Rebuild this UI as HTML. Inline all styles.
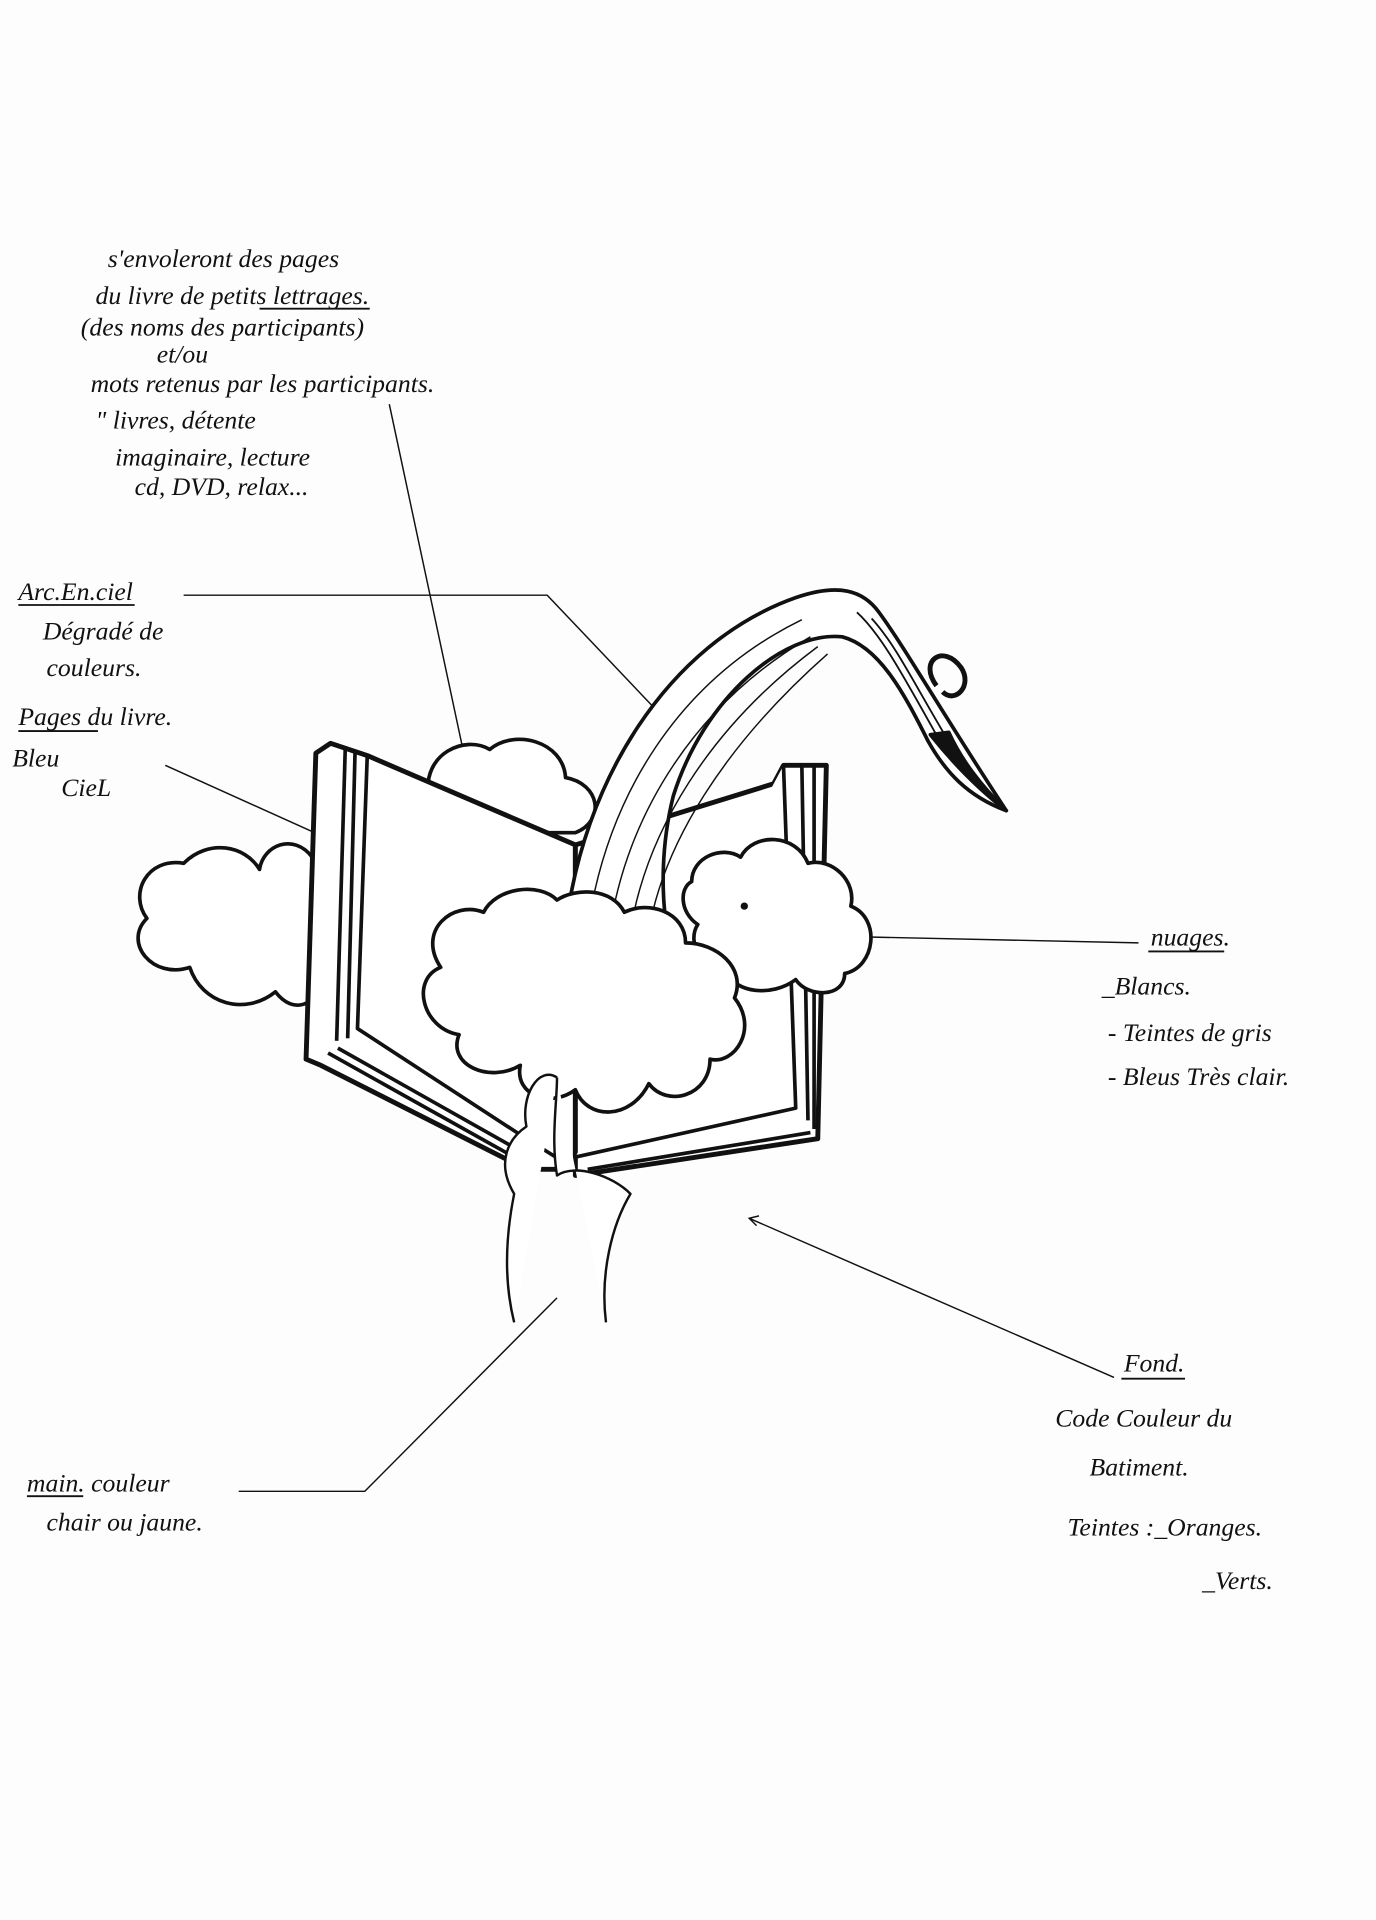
<!DOCTYPE html>
<html><head><meta charset="utf-8"><style>
html,body{margin:0;padding:0;background:#fff;}
svg{display:block;}
text{font-family:"Liberation Serif",serif;font-style:italic;fill:#111;font-size:21px;}
</style></head><body>
<svg width="1376" height="1920" viewBox="0 0 1124 1568" xmlns="http://www.w3.org/2000/svg">
<rect width="1124" height="1568" fill="#fdfdfd"/>
<g>
<text x="88" y="218" font-size="20">s'envoleront des pages</text>
<text x="78" y="248" font-size="20">du livre de petits lettrages.</text>
<line x1="212" y1="252" x2="302" y2="252" stroke="#111" stroke-width="1.5"/>
<text x="66" y="274" font-size="20">(des noms des participants)</text>
<text x="128" y="296" font-size="20">et/ou</text>
<text x="74" y="320" font-size="20">mots retenus par les participants.</text>
<text x="78" y="350" font-size="20">" livres, détente</text>
<text x="94" y="380" font-size="20">imaginaire, lecture</text>
<text x="110" y="404" font-size="20">cd, DVD, relax...</text>

<text x="15" y="490" font-size="21">Arc.En.ciel</text>
<line x1="15" y1="494" x2="110" y2="494" stroke="#111" stroke-width="1.5"/>
<text x="35" y="522">Dégradé de</text>
<text x="38" y="552">couleurs.</text>
<text x="15" y="592">Pages du livre.</text>
<line x1="15" y1="597" x2="80" y2="597" stroke="#111" stroke-width="1.5"/>
<text x="10" y="626" font-size="24">Bleu</text>
<text x="50" y="650" font-size="24">CieL</text>

<text x="940" y="772">nuages.</text>
<line x1="938" y1="777" x2="1000" y2="777" stroke="#111" stroke-width="1.5"/>
<text x="900" y="812">_Blancs.</text>
<text x="905" y="850">- Teintes de gris</text>
<text x="905" y="886">- Bleus Très clair.</text>

<text x="918" y="1120" font-size="22">Fond.</text>
<line x1="916" y1="1126" x2="968" y2="1126" stroke="#111" stroke-width="1.5"/>
<text x="862" y="1165" font-size="22">Code Couleur du</text>
<text x="890" y="1205" font-size="22">Batiment.</text>
<text x="872" y="1254" font-size="22">Teintes :_Oranges.</text>
<text x="982" y="1298" font-size="22">_Verts.</text>

<text x="22" y="1218">main. couleur</text>
<line x1="22" y1="1222" x2="68" y2="1222" stroke="#111" stroke-width="1.5"/>
<text x="38" y="1250">chair ou jaune.</text>
</g>

<g stroke="#111" fill="none" stroke-width="1.2">
<line x1="318" y1="330" x2="398" y2="705"/>
<polyline points="150,486 447,486 560,605"/>
<path d="M552,598 l8,7 -10,-2"/>
<line x1="135" y1="625" x2="328" y2="712"/>
<path d="M318,704 l10,8 -12,0"/>
<line x1="700" y1="765" x2="930" y2="770"/>
<path d="M710,759 l-10,6 10,6"/>
<line x1="612" y1="995" x2="910" y2="1125"/>
<path d="M620,993 l-8,2 6,6"/>
<polyline points="195,1218 298,1218 455,1060"/>
</g>

<g stroke="#111" fill="#fff" stroke-width="3" stroke-linejoin="round">
<path d="M255,700 C240,680 215,690 212,710 C200,690 170,685 150,705 C120,700 105,730 120,750 C100,770 125,800 155,790 C165,820 200,830 225,810 C240,830 260,820 262,800 Z"/>
<path d="M350,650 C345,615 380,600 400,612 C420,595 460,605 462,635 C490,640 495,670 470,680 L350,680 Z"/>
<path d="M270,607 L300,617 L470,690 L470,955 L430,955 L262,870 L250,865 L258,615 Z" stroke-width="4"/>
<path d="M300,617 L292,840 L430,930 L470,955" stroke-width="3"/>
<path d="M282,612 L275,850 M290,615 L284,848 M268,860 L420,945 M276,856 L425,940"/>
<path d="M640,625 L675,625 L668,930 L470,960 L470,690 L632,640 Z" stroke-width="4"/>
<path d="M640,625 L650,905 L470,945" stroke-width="3"/>
<path d="M655,625 L660,915 M665,625 L665,922 M480,955 L662,925"/>
<!-- rainbow -->
<path d="M462,760 C475,640 545,525 650,488 C685,476 705,482 718,500 C740,530 765,575 822,662 C790,650 772,630 758,605 C738,565 718,528 688,520 C640,515 575,570 550,650 C540,690 540,730 545,760 Z" stroke-width="3"/>
<path d="M480,760 C495,650 555,555 655,506 M498,760 C512,665 568,575 662,520 M515,760 C528,680 578,595 668,528 M530,760 C542,690 590,610 676,534" fill="none" stroke-width="1.2"/>
<path d="M700,500 C722,520 742,560 775,618 M712,505 C735,530 752,570 790,630" fill="none" stroke-width="1.5"/>
<path d="M765,560 C750,540 770,525 785,545 C795,560 780,575 770,565" fill="none" stroke-width="4"/>
<path d="M760,600 C780,625 800,645 822,662 C800,640 785,620 775,598 Z" fill="#111"/>
<path d="M565,720 C565,700 590,690 605,700 C615,680 650,680 660,705 C680,700 700,720 695,740 C720,750 715,790 690,795 C690,815 660,815 650,800 C630,815 600,810 595,795 C575,795 560,770 570,755 C555,745 555,725 565,720 Z"/>
<path d="M360,790 C340,760 370,735 395,745 C405,725 440,720 455,735 C470,725 500,725 510,745 C530,735 560,745 560,770 C585,770 610,790 600,815 C620,840 600,870 580,865 C580,895 545,905 530,885 C515,915 480,915 470,890 C450,905 420,895 425,870 C400,885 365,870 375,845 C345,840 335,800 360,790 Z"/>
<path d="M455,880 C440,870 425,895 430,920 C415,930 405,950 420,975 C415,1000 410,1040 420,1080 M495,1080 C490,1040 500,1000 515,975 C500,960 470,950 455,960 C450,930 455,900 455,880" fill="#fff" stroke-width="2"/>
</g>
<circle cx="608" cy="740" r="3" fill="#111"/>
</svg>
</body></html>
